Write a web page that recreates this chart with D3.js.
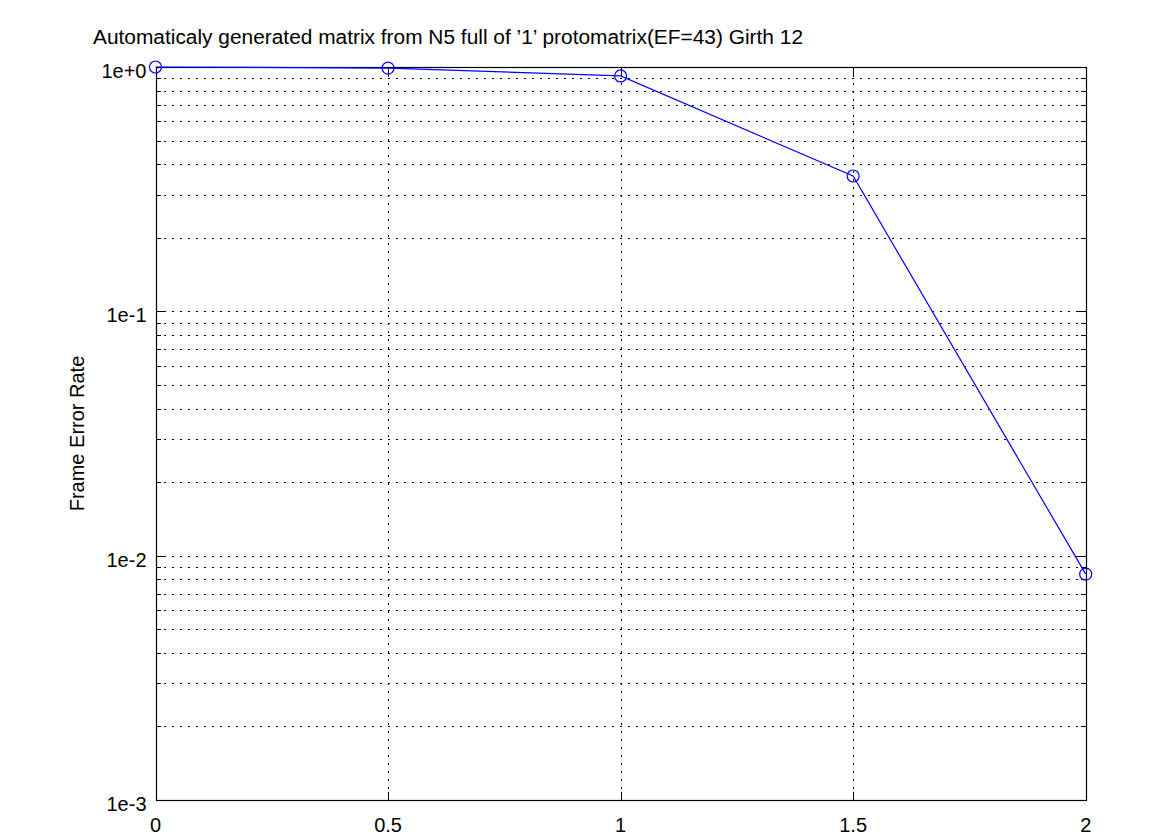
<!DOCTYPE html>
<html>
<head>
<meta charset="utf-8">
<script src="https://cdn.jsdelivr.net/npm/d3@7"></script>
<style>
  body { margin: 0; background: #fff; }
  text { font-family: "Liberation Sans", Arial, sans-serif; }
</style>
</head>
<body>
<svg id="chart" width="1175" height="835"></svg>
<script>
// data
const snr = [0, 0.5, 1, 1.5, 2];
const fer = [1.0, 0.99, 0.919, 0.358, 0.0084];
const xTicks = [0, 0.5, 1, 1.5, 2];
const yTicks = [1, 0.1, 0.01, 0.001];
const yTickLabels = ["1e+0", "1e-1", "1e-2", "1e-3"];

const titleText = "Automaticaly generated matrix from N5 full of \u20191\u2019 protomatrix(EF=43) Girth 12";
const yLabel = "Frame Error Rate";

const margin = { left: 155.5, right: 1175 - 1085.7, top: 67, bottom: 835 - 800 };
const width = 1175, height = 835;
const fs = 20;

const svg = d3.select("#chart");

const x = d3.scaleLinear().domain([0, 2]).range([margin.left, width - margin.right]);
const y = d3.scaleLog().domain([0.001, 1]).range([height - margin.bottom, margin.top]);

// minor log values
const minor = [];
[0.001, 0.01, 0.1].forEach(d => { for (let k = 2; k <= 9; k++) minor.push(d * k); });

const grid = svg.append("g").attr("stroke", "#000").attr("stroke-width", 1)
    .attr("stroke-dasharray", "2,6").attr("shape-rendering", "crispEdges");

// horizontal grid: decades and minors
grid.selectAll(".hg").data(yTicks.concat(minor)).enter().append("line")
    .attr("x1", x(0)).attr("x2", x(2))
    .attr("y1", d => Math.round(y(d)) + 0.5).attr("y2", d => Math.round(y(d)) + 0.5);

// vertical grid
grid.selectAll(".vg").data(xTicks).enter().append("line")
    .attr("y1", y(1)).attr("y2", y(0.001))
    .attr("x1", d => Math.round(x(d)) + 0.5).attr("x2", d => Math.round(x(d)) + 0.5);

// tick marks (inside) on all four sides
const ticks = svg.append("g").attr("stroke", "#000").attr("stroke-width", 1).attr("shape-rendering", "crispEdges");
yTicks.concat(minor).forEach(d => {
  const yy = Math.round(y(d)) + 0.5;
  const len = yTicks.includes(d) ? 8 : 5;
  ticks.append("line").attr("x1", x(0)).attr("x2", x(0) + len).attr("y1", yy).attr("y2", yy);
  ticks.append("line").attr("x1", x(2)).attr("x2", x(2) - len).attr("y1", yy).attr("y2", yy);
});
xTicks.forEach(d => {
  const xx = Math.round(x(d)) + 0.5;
  ticks.append("line").attr("x1", xx).attr("x2", xx).attr("y1", y(0.001)).attr("y2", y(0.001) - 8);
  ticks.append("line").attr("x1", xx).attr("x2", xx).attr("y1", y(1)).attr("y2", y(1) + 8);
});

// frame
svg.append("rect")
    .attr("x", Math.round(x(0)) + 0.5).attr("y", Math.round(y(1)) + 0.5)
    .attr("width", Math.round(x(2)) - Math.round(x(0)))
    .attr("height", Math.round(y(0.001)) - Math.round(y(1)))
    .attr("fill", "none").attr("stroke", "#000").attr("stroke-width", 1.2);

// tick labels
svg.append("g").selectAll("text").data(yTicks).enter().append("text")
    .attr("x", x(0) - 9).attr("y", d => y(d) + 11)
    .attr("text-anchor", "end").attr("font-size", fs)
    .text((d, i) => yTickLabels[i]);

svg.append("g").selectAll("text").data(xTicks).enter().append("text")
    .attr("x", d => x(d)).attr("y", height - margin.bottom + 32)
    .attr("text-anchor", "middle").attr("font-size", fs)
    .text(d => d);

// title and axis label
svg.append("text").attr("x", 93).attr("y", 44).attr("font-size", fs)
    .attr("textLength", 710).attr("lengthAdjust", "spacingAndGlyphs").text(titleText);
svg.append("text")
    .attr("transform", `translate(84, ${(y(1) + y(0.001)) / 2}) rotate(-90)`)
    .attr("text-anchor", "middle").attr("font-size", fs).text(yLabel);

// series
const pts = snr.map((d, i) => [d, fer[i]]);
svg.append("path").datum(pts)
    .attr("d", d3.line().x(d => x(d[0])).y(d => y(d[1])))
    .attr("fill", "none").attr("stroke", "#0000ff").attr("stroke-width", 1.2);

svg.append("g").selectAll("circle").data(pts).enter().append("circle")
    .attr("cx", d => x(d[0])).attr("cy", d => y(d[1])).attr("r", 6)
    .attr("fill", "none").attr("stroke", "#0000ff").attr("stroke-width", 1.2);
</script>
</body>
</html>
